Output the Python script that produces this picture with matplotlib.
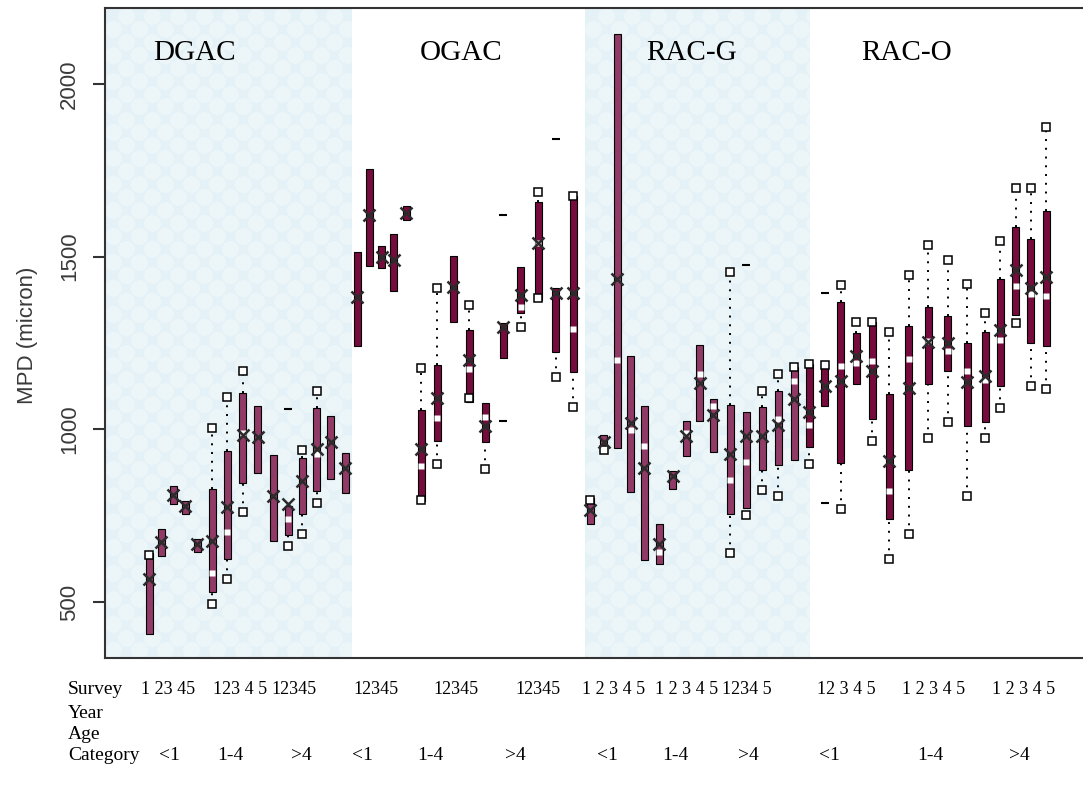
import numpy as np
import matplotlib
matplotlib.use("Agg")
import matplotlib.pyplot as plt

nan = np.nan

# ---- data (MPD, micron), 4 mixes x 3 age categories x 5 surveys ----
mixes = ["DGAC", "OGAC", "RAC-G", "RAC-O"]
ages = ["<1", "1-4", ">4"]

q1 = [407, 633, 783, 754, 644, 529, 624, 844, 873, 676, 694, 754, 821, 855, 817,
      1240, 1474, 1468, 1402, 1607, 792, 965, 1312, 1078, 962, 1208, 1338, 1375, 1225, 1165,
      725, 936, 945, 818, 621, 610, 826, 922, 1023, 935, 754, 772, 881, 896, 910,
      948, 1067, 904, 1130, 1029, 740, 881, 1130, 1168, 1009, 1020, 1125, 1330, 1249, 1240]
q3 = [641, 711, 835, 792, 682, 827, 936, 1104, 1069, 925, 778, 916, 1061, 1038, 931,
      1514, 1754, 1532, 1566, 1647, 1055, 1185, 1503, 1289, 1075, 1309, 1471, 1659, 1410, 1677,
      800, 983, 2144, 1211, 1067, 725, 879, 1023, 1243, 1089, 1071, 1049, 1066, 1112, 1181,
      1188, 1188, 1370, 1280, 1312, 1101, 1298, 1353, 1327, 1249, 1283, 1434, 1586, 1551, 1633]
mean = [566, 673, 809, 777, 668, 676, 775, 985, 977, 807, 785, 850, 942, 962, 887,
        1384, 1621, 1500, 1491, 1627, 942, 1092, 1413, 1202, 1009, 1295, 1390, 1540, 1396, 1396,
        766, 962, 1436, 1017, 887, 667, 865, 982, 1133, 1043, 930, 982, 982, 1014, 1087,
        1049, 1125, 1139, 1211, 1168, 908, 1121, 1252, 1250, 1136, 1154, 1289, 1462, 1410, 1442]
median = [nan, nan, nan, nan, nan, 584, 702, 990, nan, nan, 740, nan, 930, nan, nan,
          nan, nan, nan, nan, nan, 893, 1032, nan, 1176, 1035, nan, 1353, 1540, nan, 1292,
          nan, nan, 1200, 997, 951, 646, nan, 990, 1160, 1067, 853, 905, nan, 1030, 1141,
          1012, nan, 1183, 1192, 1197, 821, 1205, 1255, 1227, 1168, 1142, 1260, 1415, 1393, 1385]
w_lo = [nan, nan, nan, nan, nan, 494, 566, 760, nan, nan, 662, 697, 786, nan, nan,
        nan, nan, nan, nan, nan, 795, 899, nan, 1090, 884, nan, 1295, 1380, 1153, 1066,
        nan, 940, nan, nan, nan, nan, nan, nan, nan, nan, 641, 751, 825, 807, nan,
        899, nan, 769, nan, 966, 624, 697, 974, 1020, 807, 976, 1063, 1309, 1125, 1117]
w_hi = [636, nan, nan, nan, nan, 1003, 1095, 1170, nan, nan, nan, 939, 1110, nan, nan,
        nan, nan, nan, nan, nan, 1179, 1410, nan, 1361, nan, nan, nan, 1688, nan, 1677,
        795, nan, nan, nan, nan, nan, nan, nan, nan, nan, 1456, nan, 1112, 1159, 1181,
        1188, 1185, 1419, 1312, 1312, 1283, 1448, 1535, 1491, 1422, 1338, 1546, 1698, 1698, 1876]
out_box = [10, 25, 25, 28, 41, 46, 46]
out_val = [1058, 1621, 1023, 1841, 1476, 1396, 786]

# bottom label rows
survey_labels = ["1 23 45", "123 4 5", "12345", "12345", "12345", "12345",
                 "1 2 3 4 5", "1 2 3 4 5", "1234 5", "12 3 4 5", "1 2 3 4 5", "1 2 3 4 5"]

# ---- layout (x in pixel-like units) ----
group_left = [149, 212, 288, 357, 421, 503, 590, 659, 730, 809, 889, 985]
group_step = [12, 15.3, 14.3, 12.3, 16, 17.5, 13.5, 13.5, 16, 15.8, 19.5, 15.3]
xpos = np.concatenate([g + s * np.arange(5) for g, s in zip(group_left, group_step)])
shade = [(105, 352), (585, 810)]
mix_title_x = [195, 461, 692, 907]
survey_x = [141, 213, 271, 353, 433, 515, 582, 655, 722, 817, 902, 992]
age_x = [169, 230, 301, 362, 430, 515, 607, 675, 748, 829, 930, 1019]
bar_col = {"DGAC": "#923a67", "OGAC": "#760b3d", "RAC-G": "#923a67", "RAC-O": "#760b3d"}

W, H = 1083, 786
fig = plt.figure(figsize=(W / 100, H / 100), dpi=100)
ax = fig.add_axes([105 / W, 1 - 658 / H, (W - 105) / W, (658 - 8) / H])
ax.set_xlim(105, W)
ax.set_ylim(338, 2220)

for a, b in shade:
    ax.axvspan(a, b, color="#e4f1f6", zorder=0, lw=0)
    # soft bubble texture
    bx, by = np.meshgrid(np.arange(a + 8, b, 26), np.arange(360, 2220, 75))
    ax.scatter(bx.ravel(), by.ravel(), s=150, color="white", alpha=0.3, lw=0, zorder=0.5)
    ax.scatter(bx.ravel() + 13, by.ravel() + 37, s=150, color="white", alpha=0.3, lw=0, zorder=0.5)

q1a, q3a = np.array(q1, float), np.array(q3, float)
cols = [bar_col[mixes[i // 15]] for i in range(60)]
ax.bar(xpos, q3a - q1a, bottom=q1a, width=7, color=cols, edgecolor="black", lw=0.8, zorder=3)

dots = (0, (1, 3.5))
for x, lo, hi, a, b in zip(xpos, w_lo, w_hi, q1, q3):
    if not np.isnan(hi) and hi > b:
        ax.plot([x, x], [b, hi], color="black", ls=dots, lw=1.4, zorder=2)
    if not np.isnan(lo) and lo < a:
        ax.plot([x, x], [lo, a], color="black", ls=dots, lw=1.4, zorder=2)
ax.plot(xpos, w_hi, ls="none", marker="s", ms=5.5, mfc="white", mec="black", mew=1.1, zorder=4)
ax.plot(xpos, w_lo, ls="none", marker="s", ms=5.5, mfc="white", mec="black", mew=1.1, zorder=4)
ax.plot(xpos, median, ls="none", marker="s", ms=4.5, mfc="white", mec="none", zorder=4)
ax.plot(xpos, mean, ls="none", marker="x", ms=8, mec="#2b2b2b", mew=1.8, zorder=5)
ax.plot(xpos[out_box], out_val, ls="none", marker="_", ms=6, mec="black", mew=1.5, zorder=4)

for m, x in zip(mixes, mix_title_x):
    fig.text(x / W, 1 - 60 / H, m, ha="center", va="baseline",
             family="Liberation Serif", fontsize=21)

ax.spines["right"].set_visible(False)
for s in ["left", "bottom", "top"]:
    ax.spines[s].set_color("#333333")
    ax.spines[s].set_linewidth(1.5)
ax.set_xticks([])
ax.set_yticks([500, 1000, 1500, 2000])
ax.set_yticklabels(["500", "1000", "1500", "2000"], rotation=90, va="center",
                   family="Liberation Sans", fontsize=16, color="#3a3a3a")
ax.tick_params(axis="y", length=9, width=1.5, color="#333333", pad=9)
fig.text(28 / W, 1 - 335 / H, "MPD (micron)", rotation=90, ha="center", va="center",
         family="Liberation Sans", fontsize=16, color="#3a3a3a")

serif = dict(family="Liberation Serif", va="baseline")
for lab, yb in zip(["Survey", "Year", "Age", "Category"], [694, 718, 739, 760]):
    fig.text(68 / W, 1 - yb / H, lab, ha="left", fontsize=14, **serif)
for lab, x in zip(survey_labels, survey_x):
    fig.text(x / W, 1 - 694 / H, lab, ha="left", fontsize=13, **serif)
for i, x in enumerate(age_x):
    fig.text(x / W, 1 - 760 / H, ages[i % 3], ha="center", fontsize=14, **serif)

fig.savefig("out.png", dpi=100)
